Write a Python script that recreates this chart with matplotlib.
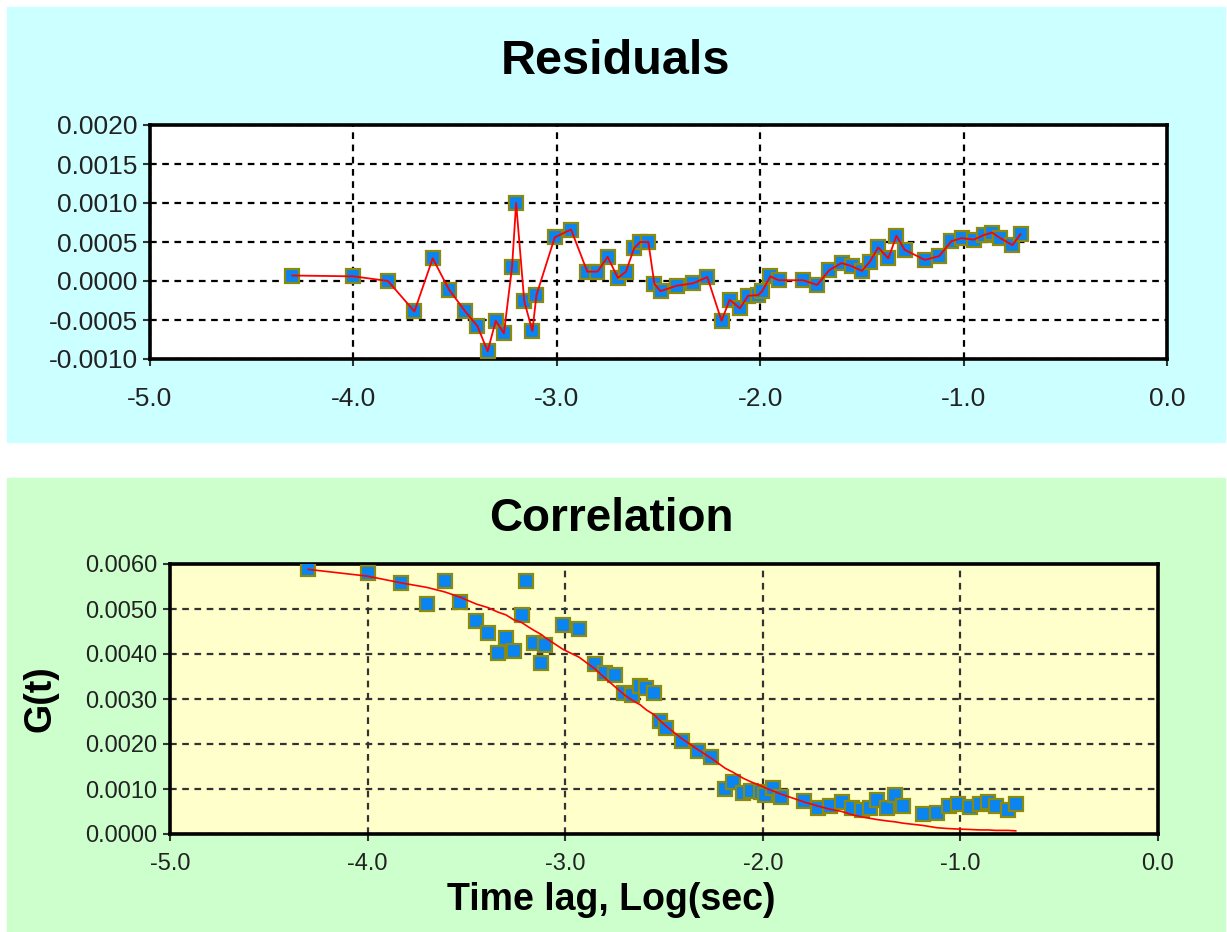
import numpy as np
import matplotlib.pyplot as plt
from matplotlib.patches import Rectangle
from matplotlib.ticker import FormatStrFormatter

# log10 time lag (s)
lag = [-4.30, -4.00, -3.83, -3.70, -3.61, -3.53, -3.45, -3.39, -3.34, -3.30,
       -3.26, -3.22, -3.20, -3.16, -3.12, -3.10, -3.01, -2.93, -2.85, -2.80,
       -2.75, -2.70, -2.66, -2.62, -2.59, -2.55, -2.52, -2.49, -2.41, -2.33,
       -2.26, -2.19, -2.15, -2.10, -2.06, -2.01, -1.99, -1.95, -1.91, -1.79,
       -1.72, -1.66, -1.60, -1.55, -1.50, -1.46, -1.42, -1.37, -1.33, -1.29,
       -1.19, -1.12, -1.06, -1.01, -0.95, -0.90, -0.86, -0.82, -0.76, -0.72]

residual = [0.00007, 0.00006, 0.00000, -0.00039, 0.00029, -0.00011, -0.00039, -0.00058, -0.00090, -0.00051,
            -0.00067, 0.00018, 0.00100, -0.00026, -0.00064, -0.00018, 0.00056, 0.00066, 0.00012, 0.00012,
            0.00031, 0.00004, 0.00012, 0.00042, 0.00050, 0.00050, -0.00004, -0.00013, -0.00006, -0.00003,
            0.00005, -0.00051, -0.00024, -0.00035, -0.00019, -0.00018, -0.00013, 0.00006, 0.00001, 0.00001,
            -0.00005, 0.00014, 0.00023, 0.00019, 0.00013, 0.00025, 0.00043, 0.00029, 0.00058, 0.00040,
            0.00027, 0.00032, 0.00051, 0.00055, 0.00053, 0.00059, 0.00062, 0.00055, 0.00046, 0.00060]

corr = [0.00589, 0.00580, 0.00558, 0.00511, 0.00562, 0.00515, 0.00473, 0.00447, 0.00402, 0.00436,
        0.00407, 0.00487, 0.00562, 0.00425, 0.00380, 0.00420, 0.00464, 0.00456, 0.00377, 0.00358,
        0.00353, 0.00313, 0.00309, 0.00329, 0.00324, 0.00313, 0.00251, 0.00235, 0.00207, 0.00185,
        0.00171, 0.00100, 0.00116, 0.00091, 0.00096, 0.00093, 0.00087, 0.00102, 0.00082, 0.00073,
        0.00058, 0.00062, 0.00071, 0.00058, 0.00053, 0.00058, 0.00076, 0.00058, 0.00087, 0.00062,
        0.00044, 0.00047, 0.00062, 0.00067, 0.00060, 0.00067, 0.00071, 0.00062, 0.00053, 0.00067]

fit = [0.00588, 0.00573, 0.00558, 0.00548, 0.00538, 0.00526, 0.00511, 0.00503, 0.00493, 0.00487,
       0.00476, 0.00470, 0.00464, 0.00453, 0.00443, 0.00436, 0.00410, 0.00393, 0.00367, 0.00347,
       0.00328, 0.00309, 0.00297, 0.00287, 0.00276, 0.00265, 0.00252, 0.00240, 0.00212, 0.00188,
       0.00168, 0.00146, 0.00137, 0.00124, 0.00116, 0.00107, 0.00103, 0.00096, 0.00089, 0.00071,
       0.00062, 0.00055, 0.00050, 0.00043, 0.00038, 0.00035, 0.00032, 0.00029, 0.00027, 0.00024,
       0.00019, 0.00014, 0.00012, 0.00011, 0.00010, 0.00009, 0.00009, 0.00008, 0.00008, 0.00007]

res_ticks = [-0.0010, -0.0005, 0.0, 0.0005, 0.0010, 0.0015, 0.0020]
corr_ticks = [0.0, 0.001, 0.002, 0.003, 0.004, 0.005, 0.006]
x_ticks = [-5.0, -4.0, -3.0, -2.0, -1.0, 0.0]

W, H = 1227, 932
fig = plt.figure(figsize=(W / 100, H / 100), dpi=100)
fig.patch.set_facecolor('white')

# panel backgrounds
fig.patches.append(Rectangle((7 / W, 1 - 442 / H), 1218 / W, 435 / H,
                             transform=fig.transFigure, color='#ccffff', zorder=-10))
fig.patches.append(Rectangle((7 / W, 0), 1218 / W, 1 - 478 / H,
                             transform=fig.transFigure, color='#ccffcc', zorder=-10))

sans = ['Liberation Sans', 'DejaVu Sans']
mk = dict(marker='s', linestyle='none', markerfacecolor='#0a84f0',
          markeredgecolor='#8a8a10', markeredgewidth=1.6)


def style_axes(ax, face, gridcol, fsize):
    ax.set_facecolor(face)
    for s in ax.spines.values():
        s.set_linewidth(2.6)
        s.set_color('black')
    ax.grid(True, color=gridcol, linestyle=(0, (3, 2.5)), linewidth=1.6)
    ax.set_axisbelow(True)
    ax.tick_params(direction='out', length=5, width=1.5, color='#333333',
                   labelsize=fsize, pad=4)
    for lab in ax.get_xticklabels() + ax.get_yticklabels():
        lab.set_family(sans)
        lab.set_color('#222222')


# residuals
ax1 = fig.add_axes([150 / W, 1 - 359 / H, 1017 / W, 234 / H])
ax1.plot(lag, residual, markersize=10.5, zorder=3, **mk)
ax1.plot(lag, residual, color='red', linewidth=1.3, zorder=4)
ax1.set_xlim(-5, 0)
ax1.set_ylim(-0.0010, 0.0020)
ax1.set_xticks(x_ticks)
ax1.set_yticks(res_ticks)
ax1.xaxis.set_major_formatter(FormatStrFormatter('%.1f'))
ax1.yaxis.set_major_formatter(FormatStrFormatter('%.4f'))
style_axes(ax1, 'white', 'black', 19)
ax1.tick_params(axis='x', pad=15)
fig.text(615 / W, 1 - 62 / H, 'Residuals', ha='center', va='center',
         fontsize=35, fontweight='bold', family=sans)

# correlation
ax2 = fig.add_axes([170 / W, 1 - 834 / H, 988 / W, 270 / H])
ax2.plot(lag, corr, markersize=10.5, zorder=3, **mk)
ax2.plot(lag, fit, color='red', linewidth=1.2, zorder=4)
ax2.set_xlim(-5, 0)
ax2.set_ylim(0, 0.006)
ax2.set_xticks(x_ticks)
ax2.set_yticks(corr_ticks)
ax2.xaxis.set_major_formatter(FormatStrFormatter('%.1f'))
ax2.yaxis.set_major_formatter(FormatStrFormatter('%.4f'))
style_axes(ax2, '#ffffcc', '#333333', 17)
ax2.tick_params(axis='x', pad=9)
fig.text(611 / W, 1 - 519 / H, 'Correlation', ha='center', va='center',
         fontsize=33, fontweight='bold', family=sans)
ax2.set_xlabel('Time lag, Log(sec)', fontsize=27, fontweight='bold', family=sans)
ax2.xaxis.set_label_coords((611 - 170) / 988, -48 / 270)
ax2.set_ylabel('G(t)', fontsize=27, fontweight='bold', family=sans)
ax2.yaxis.set_label_coords(-(170 - 58) / 988, 0.5)

fig.savefig('out.png', dpi=100)
